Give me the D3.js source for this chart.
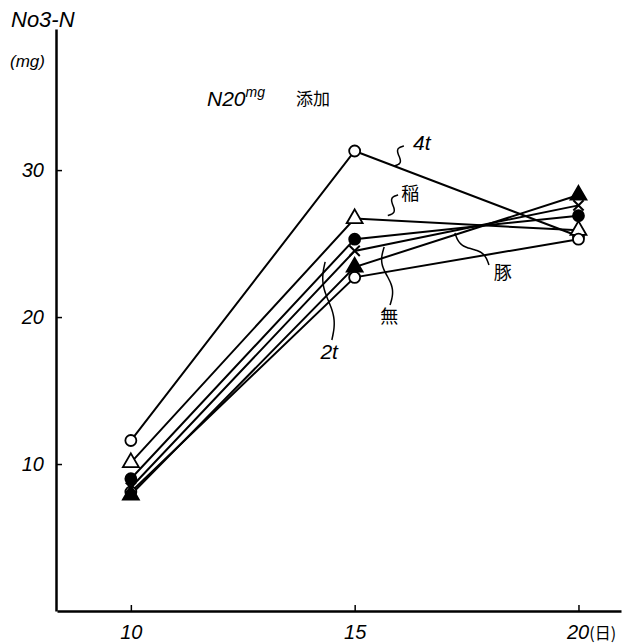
<!DOCTYPE html>
<html>
<head>
<meta charset="utf-8">
<script src="https://cdn.jsdelivr.net/npm/d3@7"></script>
<style>
  body { margin: 0; background: #fff; }
  text { font-family: "Liberation Sans", sans-serif; fill: #000; }
  .jp { font-family: "Noto Sans CJK JP", sans-serif; }
</style>
</head>
<body>
<div id="chart"></div>
<script>
// days after start (x) and NO3-N (mg) per treatment
const days = [10, 15, 20];
const s4t   = [11.6, 31.3, 25.5];  // open circle, 4t
const sIne  = [10.1, 26.7, 25.9];  // open triangle, 稲
const sDot  = [9.0, 25.3, 26.9];   // filled circle
const sCross = [8.4, 24.5, 27.6];  // cross
const sTri  = [7.9, 23.4, 28.3];   // filled triangle
const s2t   = [8.1, 22.7, 25.3];   // open circle, 2t

const yTicks = [10, 20, 30];
const xTicks = [10, 15, 20];

// label text position and leader line ends, in data units
const notes = [
  {text: "4t", jp: false, at: [16.50, 31.84], from: [15.88, 30.28], to: [16.10, 31.64]},
  {text: "稲", jp: true,  at: [16.24, 28.37], from: [15.74, 26.91], to: [15.97, 28.31]},
  {text: "無", jp: true,  at: [15.77, 20.00], from: [15.66, 24.77], to: [15.79, 20.82]},
  {text: "豚", jp: true,  at: [18.31, 23.00], from: [17.24, 25.72], to: [18.00, 23.54]},
  {text: "2t", jp: false, at: [14.43, 17.62], from: [14.34, 23.75], to: [14.49, 18.44]}
];

const series = [
  {values: s4t,    shape: "circle",   filled: false},
  {values: sIne,   shape: "triangle", filled: false},
  {values: s2t,    shape: "circle",   filled: false},
  {values: sCross, shape: "times",    filled: false},
  {values: sDot,   shape: "circle",   filled: true},
  {values: sTri,   shape: "triangle", filled: true}
];

const W = 636, H = 643;

const svg = d3.select("#chart")
  .append("svg")
    .attr("width", W)
    .attr("height", H);

const x = d3.scaleLinear()
  .domain([8.35, 20.95])
  .range([57, 621]);

const y = d3.scaleLinear()
  .domain([0, 39.6])
  .range([611, 29]);

// axes, ticks pointing inward
const xAxis = svg.append("g")
  .attr("transform", "translate(0,611)")
  .call(d3.axisBottom(x)
    .tickValues(xTicks)
    .tickSizeInner(-6)
    .tickSizeOuter(0)
    .tickPadding(14)
    .tickFormat(d => d));

xAxis.select(".domain").attr("stroke-width", 2.5);
xAxis.selectAll(".tick line").attr("stroke-width", 1.5);
xAxis.selectAll(".tick text")
  .style("font-size", "20px")
  .style("font-style", "italic")
  .attr("text-anchor", d => d === 20 ? "start" : "middle")
  .attr("dx", d => d === 20 ? -12 : 0);
xAxis.selectAll(".tick text")
  .filter(d => d === 20)
  .append("tspan")
    .attr("class", "jp")
    .style("font-style", "normal")
    .style("font-size", "16px")
    .text("(日)");

const yAxis = svg.append("g")
  .attr("transform", "translate(56,0)")
  .call(d3.axisLeft(y)
    .tickValues(yTicks)
    .tickSizeInner(-6)
    .tickSizeOuter(0)
    .tickPadding(12));

yAxis.select(".domain").attr("stroke-width", 2.5);
yAxis.selectAll(".tick line").attr("stroke-width", 1.5);
yAxis.selectAll(".tick text")
  .style("font-size", "20px")
  .style("font-style", "italic");

// axis title
svg.append("text")
  .attr("x", 11).attr("y", 27)
  .style("font-size", "22px").style("font-style", "italic")
  .text("No3-N");
svg.append("text")
  .attr("x", 10).attr("y", 67)
  .style("font-size", "17px").style("font-style", "italic")
  .text("(mg)");

// chart note
const title = svg.append("text")
  .attr("x", 207).attr("y", 106)
  .style("font-size", "21px").style("font-style", "italic");
title.append("tspan").text("N20");
title.append("tspan").attr("dy", -9).style("font-size", "14px").text("mg");
svg.append("text")
  .attr("class", "jp")
  .attr("x", 296).attr("y", 105)
  .style("font-size", "17px")
  .text("添加");

// lines
const line = d3.line()
  .x((d, i) => x(days[i]))
  .y(d => y(d));

svg.append("g")
  .selectAll("path")
  .data(series)
  .join("path")
    .attr("d", d => line(d.values))
    .attr("fill", "none")
    .attr("stroke", "#000")
    .attr("stroke-width", 2);

// markers
const symbolType = {
  circle: d3.symbolCircle,
  triangle: d3.symbolTriangle,
  times: d3.symbolTimes
};
const symbolSize = {circle: 95, triangle: 110, times: 70};

const pts = series.flatMap(s => s.values.map((v, i) => ({s, v, day: days[i]})));

svg.append("g")
  .selectAll("path")
  .data(pts)
  .join("path")
    .attr("transform", d => `translate(${x(d.day)},${y(d.v)})`)
    .attr("d", d => d3.symbol(symbolType[d.s.shape], symbolSize[d.s.shape])())
    .attr("fill", d => d.s.shape === "times" ? "none" : (d.s.filled ? "#000" : "#fff"))
    .attr("stroke", "#000")
    .attr("stroke-width", d => d.s.shape === "times" ? 2 : 1.8);

// wavy leader lines and their labels
function wave(a, b) {
  const [x0, y0] = [x(a[0]), y(a[1])], [x1, y1] = [x(b[0]), y(b[1])];
  const len = Math.hypot(x1 - x0, y1 - y0);
  const nx = -(y1 - y0) / len, ny = (x1 - x0) / len;
  return d3.range(0, 1.001, 0.05).map(t => {
    const off = 4 * Math.sin(t * 2 * Math.PI);
    return [x0 + (x1 - x0) * t + nx * off, y0 + (y1 - y0) * t + ny * off];
  });
}

svg.append("g")
  .selectAll("path")
  .data(notes)
  .join("path")
    .attr("d", d => d3.line().curve(d3.curveBasis)(wave(d.from, d.to)))
    .attr("fill", "none")
    .attr("stroke", "#000")
    .attr("stroke-width", 1.5);

svg.append("g")
  .selectAll("text")
  .data(notes)
  .join("text")
    .attr("class", d => d.jp ? "jp" : null)
    .attr("x", d => x(d.at[0]))
    .attr("y", d => y(d.at[1]))
    .attr("dy", "0.35em")
    .attr("text-anchor", "middle")
    .style("font-size", d => d.jp ? "18px" : "21px")
    .style("font-style", d => d.jp ? "normal" : "italic")
    .text(d => d.text);
</script>
</body>
</html>
